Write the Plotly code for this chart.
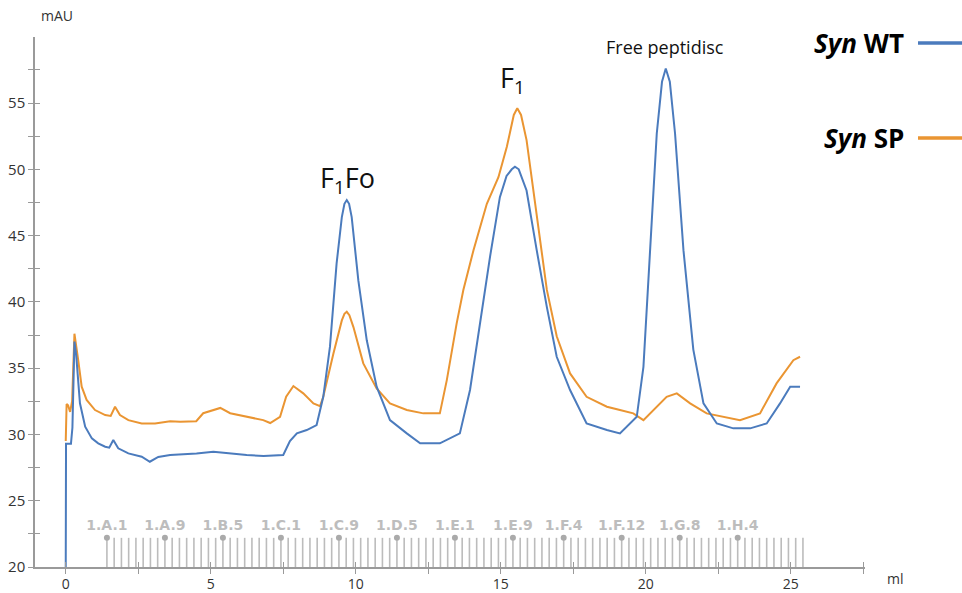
import plotly.graph_objects as go

# ---------------- data ----------------
wt_ml = [0, 0.01, 0.18, 0.23, 0.30, 0.36, 0.49, 0.67, 0.90, 1.12, 1.36, 1.50, 1.64, 1.81, 2.16,
         2.62, 2.90, 3.19, 3.60, 4.00, 4.51, 5.09, 5.67, 6.24, 6.82, 7.20, 7.50, 7.73, 7.97, 8.31,
         8.65, 8.88, 9.11, 9.34, 9.52, 9.61, 9.69, 9.77, 9.86, 10.09, 10.38, 10.72, 11.18, 11.76,
         12.22, 12.90, 13.59, 13.94, 14.28, 14.63, 14.97, 15.20, 15.38, 15.49, 15.62, 15.89, 16.24,
         16.59, 16.93, 17.39, 17.96, 18.66, 19.11, 19.34, 19.69, 19.92, 20.15, 20.38, 20.56, 20.69,
         20.83, 21.01, 21.30, 21.64, 21.99, 22.45, 23.02, 23.60, 24.17, 24.63, 24.98, 25.32]
wt_mau = [20.0, 29.3, 29.3, 30.5, 37.0, 36.0, 32.35, 30.58, 29.7, 29.33, 29.07, 29.0, 29.58, 28.95,
          28.57, 28.32, 27.94, 28.3, 28.45, 28.5, 28.57, 28.7, 28.57, 28.45, 28.37, 28.4, 28.45, 29.5,
          30.08, 30.33, 30.71, 32.84, 36.6, 42.9, 46.4, 47.4, 47.68, 47.4, 46.4, 41.6, 37.1, 33.6,
          31.08, 30.08, 29.33, 29.33, 30.08, 33.35, 38.38, 43.4, 47.9, 49.5, 50.0, 50.2, 50.0, 48.4,
          43.9, 39.6, 35.86, 33.35, 30.83, 30.33, 30.08, 30.58, 31.33, 35.1, 43.9, 52.7, 56.6, 57.6,
          56.6, 52.7, 43.9, 36.4, 32.34, 30.83, 30.46, 30.46, 30.83, 32.34, 33.6, 33.6]

sp_ml = [0, 0.03, 0.08, 0.15, 0.22, 0.30, 0.43, 0.55, 0.72, 1.01, 1.36, 1.55, 1.70, 1.87, 2.16,
         2.62, 3.08, 3.60, 3.95, 4.50, 4.74, 5.33, 5.67, 6.24, 6.81, 7.05, 7.39, 7.60, 7.85, 8.19,
         8.54, 8.77, 8.88, 9.23, 9.52, 9.61, 9.69, 9.78, 9.92, 10.26, 10.72, 11.18, 11.76, 12.33,
         12.90, 13.14, 13.48, 13.71, 14.06, 14.52, 14.92, 15.21, 15.45, 15.57, 15.70, 15.89, 16.12,
         16.36, 16.59, 16.93, 17.39, 17.96, 18.66, 19.11, 19.57, 19.92, 20.38, 20.72, 21.07, 21.53,
         22.10, 22.68, 23.25, 23.94, 24.51, 25.09, 25.32]
sp_mau = [29.5, 32.3, 32.2, 31.7, 32.5, 37.6, 35.6, 33.6, 32.6, 31.84, 31.46, 31.4, 32.09, 31.46,
          31.08, 30.83, 30.83, 31.0, 30.96, 31.0, 31.6, 32.0, 31.6, 31.33, 31.08, 30.86, 31.33, 32.84,
          33.65, 33.1, 32.34, 32.14, 32.84, 36.1, 38.6, 39.1, 39.25, 39.0, 38.1, 35.36, 33.47, 32.34,
          31.84, 31.59, 31.59, 34.1, 38.38, 40.9, 43.9, 47.4, 49.4, 51.7, 54.1, 54.6, 54.1, 52.2,
          48.4, 44.7, 40.9, 37.4, 34.6, 32.84, 32.09, 31.84, 31.59, 31.08, 32.09, 32.84, 33.1, 32.34,
          31.59, 31.33, 31.08, 31.59, 33.85, 35.6, 35.86]

# fraction collector: first fraction position, fraction volume, number of fractions
frac_start_ml = 1.42
frac_volume_ml = 0.25
n_fractions = 97
frac_labels = ["1.A.1", "1.A.9", "1.B.5", "1.C.1", "1.C.9", "1.D.5", "1.E.1", "1.E.9",
               "1.F.4", "1.F.12", "1.G.8", "1.H.4"]
frac_label_index = [0, 8, 16, 24, 32, 40, 48, 56, 63, 71, 79, 87]
frac_marker_top = 22.2

x_ticks = [0, 5, 10, 15, 20, 25]
x_minor = [2.5, 7.5, 12.5, 17.5, 22.5, 27.5]
y_ticks = [20, 25, 30, 35, 40, 45, 50, 55]
y_minor = [22.5, 27.5, 32.5, 37.5, 42.5, 47.5, 52.5, 57.5]

peak_labels = ["F<sub>1</sub>Fo", "F<sub>1</sub>", "Free peptidisc"]
peak_ml = [9.7, 15.42, 20.67]
peak_mau = [49.2, 56.8, 59.2]
peak_size = [27, 27, 18]

BLUE = "#4b7bbd"
ORANGE = "#ea9532"
GRAY = "#bcbcbc"
AXIS = "#9a9a9a"
FONT = "Open Sans"

# ---------------- figure ----------------
fig = go.Figure()

frac_pos = [frac_start_ml + i * frac_volume_ml for i in range(n_fractions)]
fx, fy = [], []
for p in frac_pos:
    fx += [p, p, None]
    fy += [20, frac_marker_top, None]
fig.add_trace(go.Scatter(x=fx, y=fy, mode="lines", line=dict(color=GRAY, width=1.6),
                         hoverinfo="skip", showlegend=False))
lab_x = [frac_pos[i] for i in frac_label_index]
fig.add_trace(go.Scatter(x=lab_x, y=[frac_marker_top] * len(lab_x), mode="markers+text",
                         marker=dict(color="#aaaaaa", size=6), text=frac_labels,
                         textposition="top center",
                         textfont=dict(family="DejaVu Sans", size=14, color="#bdbdbd",
                                       weight="bold"),
                         hoverinfo="skip", showlegend=False))

fig.add_trace(go.Scatter(x=sp_ml, y=sp_mau, mode="lines", name="Syn SP",
                         line=dict(color=ORANGE, width=2), showlegend=False))
fig.add_trace(go.Scatter(x=wt_ml, y=wt_mau, mode="lines", name="Syn WT",
                         line=dict(color=BLUE, width=2), showlegend=False))

# empty trace to bring the overlay (inside-tick) axes to life
fig.add_trace(go.Scatter(x=[None], y=[None], xaxis="x2", yaxis="y2", showlegend=False,
                         hoverinfo="skip"))

for lab, xm, ym, sz in zip(peak_labels, peak_ml, peak_mau, peak_size):
    fig.add_annotation(x=xm, y=ym, text=lab, showarrow=False, xanchor="center",
                       yanchor="middle", font=dict(family=FONT, size=sz, color="#111111"))

xr = [-1.06, 27.56]
yr = [20, 59.98]
axis_common = dict(showgrid=False, zeroline=False, automargin=False)
fig.update_layout(
    width=962, height=593,
    margin=dict(l=35, r=97, t=37, b=26),
    paper_bgcolor="white", plot_bgcolor="white",
    font=dict(family=FONT, size=14, color="#333333"),
    xaxis=dict(range=xr, tickvals=x_ticks, ticks="outside", ticklen=5, tickcolor=AXIS,
               showline=True, linecolor=AXIS, linewidth=1.5, ticklabelstandoff=-2,
               minor=dict(tickvals=x_minor, ticks="outside", ticklen=5, tickcolor=AXIS),
               tickfont=dict(size=14, color="#333333"), **axis_common),
    yaxis=dict(range=yr, tickvals=y_ticks, ticks="outside", ticklen=5, tickcolor=AXIS,
               showline=True, linecolor=AXIS, linewidth=1.5,
               minor=dict(tickvals=y_minor, ticks="outside", ticklen=5, tickcolor=AXIS),
               tickfont=dict(size=15, color="#333333"), **axis_common),
    xaxis2=dict(range=xr, overlaying="x", anchor="y", tickvals=x_ticks, ticks="inside",
                ticklen=5, tickcolor=AXIS, showticklabels=False, showline=False,
                minor=dict(tickvals=x_minor, ticks="inside", ticklen=5, tickcolor=AXIS),
                **axis_common),
    yaxis2=dict(range=yr, overlaying="y", anchor="x", tickvals=y_ticks, ticks="inside",
                ticklen=5, tickcolor=AXIS, showticklabels=False, showline=False,
                minor=dict(tickvals=y_minor, ticks="inside", ticklen=5, tickcolor=AXIS),
                **axis_common),
)

# axis unit labels
fig.add_annotation(xref="paper", yref="paper", x=(57 - 35) / 830, y=(567 - 16) / 530,
                   xanchor="center", yanchor="middle",
                   text="mAU", showarrow=False, font=dict(size=14, color="#333333"))
fig.add_annotation(xref="paper", yref="paper", x=(895 - 35) / 830, y=(567 - 578) / 530,
                   xanchor="center", yanchor="middle",
                   text="ml", showarrow=False, font=dict(size=14, color="#333333"))

# custom legend
legend_items = [("<b><i>Syn</i> WT</b>", BLUE, 43), ("<b><i>Syn</i> SP</b>", ORANGE, 138)]
for txt, col, py in legend_items:
    fig.add_annotation(xref="paper", yref="paper", x=(906 - 35) / 830, y=(567 - py) / 530,
                       xanchor="right", yanchor="middle", text=txt, showarrow=False,
                       font=dict(family=FONT, size=26, color="#000000"))
    fig.add_shape(type="line", xref="paper", yref="paper",
                  x0=(918 - 35) / 830, x1=(962 - 35) / 830,
                  y0=(567 - py) / 530, y1=(567 - py) / 530,
                  line=dict(color=col, width=3.5))

fig.write_html("out.html")
